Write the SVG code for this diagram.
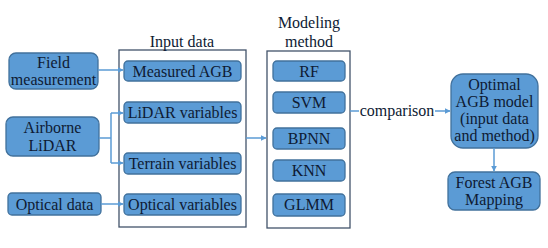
<svg xmlns="http://www.w3.org/2000/svg" width="548" height="248" viewBox="0 0 548 248">
<style>
.n{fill:#5b9bd5;stroke:#41719c;stroke-width:1.3}
.c{fill:none;stroke:#43536a;stroke-width:1.3}
.t{font-size:16px;fill:#0e1a33;text-anchor:middle}
.e{fill:none;stroke:#5b9bd5;stroke-width:1.5}
</style>
<defs>
<marker id="a" viewBox="0 0 10 10" refX="9" refY="5" markerWidth="6" markerHeight="6" orient="auto" markerUnits="userSpaceOnUse">
<path d="M0,0 L10,5 L0,10 z" fill="#5b9bd5"/>
</marker>
</defs>
<rect width="548" height="248" fill="#ffffff"/>
<g font-family="'Liberation Serif', 'DejaVu Serif', serif">
<g id="input-container">
<rect class="c" x="119" y="50" width="127" height="177"/>
<text class="t" x="182" y="47">Input data</text>
</g>
<g id="modeling-container">
<rect class="c" x="267" y="51" width="83" height="177"/>
<text class="t" x="309" y="28">Modeling</text>
<text class="t" x="309" y="47">method</text>
</g>
<g id="field">
<rect class="n" x="9" y="53" width="89" height="36" rx="7"/>
<text class="t" x="53.5" y="68">Field</text>
<text class="t" x="53.5" y="85">measurement</text>
</g>
<g id="airborne">
<rect class="n" x="6" y="117" width="93" height="39" rx="7"/>
<text class="t" x="52.5" y="133">Airborne</text>
<text class="t" x="52.5" y="151">LiDAR</text>
</g>
<g id="optical">
<rect class="n" x="8" y="193" width="93" height="22" rx="4"/>
<text class="t" x="54.5" y="209.5">Optical data</text>
</g>
<g id="measured-agb">
<rect class="n" x="124" y="61" width="117" height="20" rx="4"/>
<text class="t" x="182.5" y="77">Measured AGB</text>
</g>
<g id="lidar-variables">
<rect class="n" x="124" y="102" width="117" height="21" rx="4"/>
<text class="t" x="182.5" y="118">LiDAR variables</text>
</g>
<g id="terrain-variables">
<rect class="n" x="124" y="153" width="117" height="21" rx="4"/>
<text class="t" x="182.5" y="169">Terrain variables</text>
</g>
<g id="optical-variables">
<rect class="n" x="124" y="194" width="117" height="21" rx="4"/>
<text class="t" x="182.5" y="210">Optical variables</text>
</g>
<g id="rf">
<rect class="n" x="273" y="61" width="72" height="20" rx="4"/>
<text class="t" x="309" y="77">RF</text>
</g>
<g id="svm">
<rect class="n" x="273" y="92" width="72" height="21" rx="4"/>
<text class="t" x="309" y="108">SVM</text>
</g>
<g id="bpnn">
<rect class="n" x="273" y="128" width="72" height="21" rx="4"/>
<text class="t" x="309" y="144">BPNN</text>
</g>
<g id="knn">
<rect class="n" x="273" y="160" width="72" height="21" rx="4"/>
<text class="t" x="309" y="176">KNN</text>
</g>
<g id="glmm">
<rect class="n" x="273" y="194" width="72" height="22" rx="4"/>
<text class="t" x="309" y="210">GLMM</text>
</g>
<g id="optimal">
<rect class="n" x="451" y="74" width="87" height="74" rx="12"/>
<text class="t" x="494.5" y="90">Optimal</text>
<text class="t" x="494.5" y="107">AGB model</text>
<text class="t" x="494.5" y="124">(input data</text>
<text class="t" x="494.5" y="141">and method)</text>
</g>
<g id="forest">
<rect class="n" x="448" y="172" width="92" height="38" rx="7"/>
<text class="t" x="494" y="188">Forest AGB</text>
<text class="t" x="494" y="205">Mapping</text>
</g>
<g id="connectors">
<path class="e" d="M98,70 H123" marker-end="url(#a)"/>
<path class="e" d="M99,138 H111"/>
<path class="e" d="M111,113 V163"/>
<path class="e" d="M111,113 H123" marker-end="url(#a)"/>
<path class="e" d="M111,163 H123" marker-end="url(#a)"/>
<path class="e" d="M101,204 H123" marker-end="url(#a)"/>
<path class="e" d="M246,138 H266" marker-end="url(#a)"/>
<path class="e" d="M350,111 H359"/>
<text class="t" x="397" y="116">comparison</text>
<path class="e" d="M435,111 H450" marker-end="url(#a)"/>
<path class="e" d="M494,148 V171" marker-end="url(#a)"/>
</g>
</g>
</svg>
